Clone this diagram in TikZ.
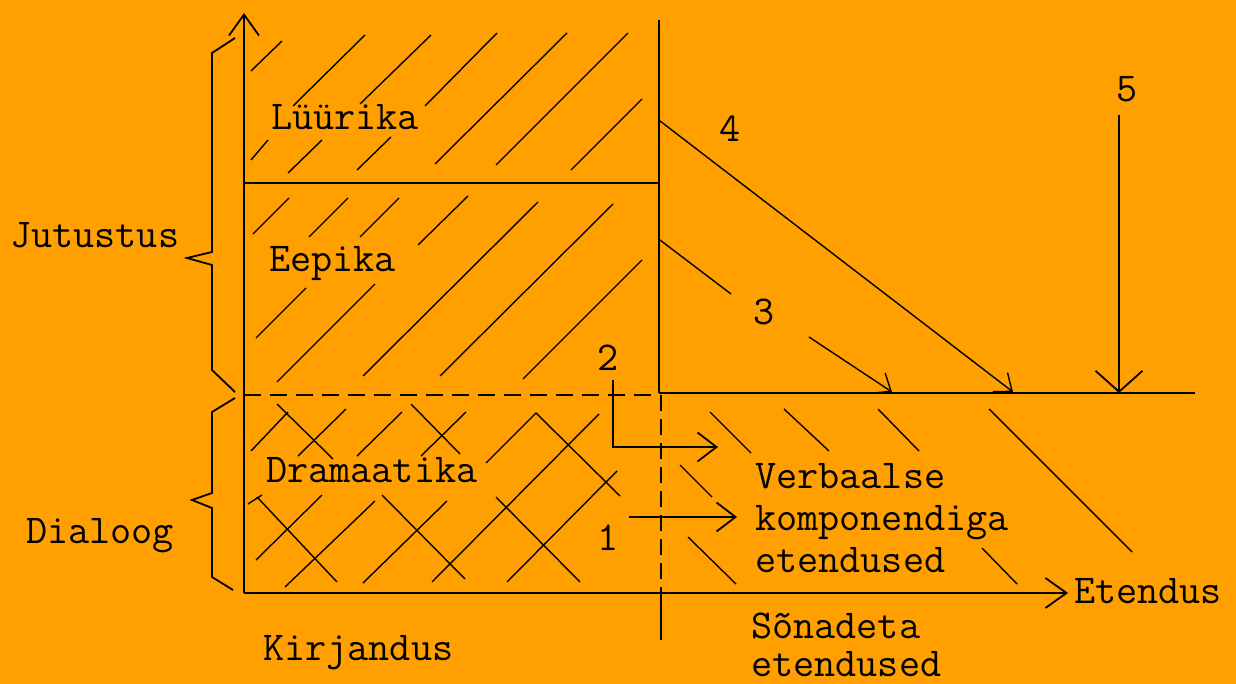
\documentclass[tikz,border=0pt]{standalone}
\usepackage{fontspec}
\usetikzlibrary{arrows.meta}
\definecolor{bgor}{RGB}{255,160,0}
\begin{document}
\begin{tikzpicture}[x=1pt,y=-1pt,
  ln/.style={line width=1.8pt, black, line join=miter},
  hatch/.style={line width=1.4pt, black},
  dsh/.style={line width=1.8pt, black, dash pattern=on 17pt off 9pt},
  lbl/.style={anchor=base west, inner sep=0pt, font=\ttfamily\fontsize{41}{42}\selectfont},
  axtip/.style={-{Straight Barb[length=21pt,width=30pt]}},
  smtip/.style={-{Straight Barb[length=19pt,width=29pt]}},
  dgtip/.style={-{Straight Barb[length=15pt,width=24pt]}},
  bigtip/.style={-{Straight Barb[length=21pt,width=47pt]}}
]
\useasboundingbox (0,0) rectangle (1236,684);
\fill[bgor] (0,0) rectangle (1236,684);

% coordinates
\coordinate (O) at (244,593);
\coordinate (Ytop) at (244,13);
\coordinate (Xend) at (1068,593);
\coordinate (DivL) at (244,183);
\coordinate (DivR) at (659,183);
\coordinate (Vtop) at (659,20);
\coordinate (Vmid) at (659,393);
\coordinate (Hright) at (1195,393);
\coordinate (DashL) at (244,395);
\coordinate (DashR) at (659,395);
\coordinate (VdTop) at (661,395);
\coordinate (VdBot) at (661,593);
\coordinate (Vlow) at (661,640);

% axes and frame lines
\draw[ln, axtip] (O) -- (Ytop);
\draw[ln, axtip] (O) -- (Xend);
\draw[ln] (DivL) -- (DivR);
\draw[ln] (Vtop) -- (Vmid);
\draw[ln] (Vmid) -- (Hright);
\draw[dsh] (DashL) -- (DashR);
\draw[ln, dash pattern=on 16pt off 8pt] (VdTop) -- (VdBot);
\draw[ln] (VdBot) -- (Vlow);

% braces
\draw[ln] (235,38) -- (212,53) -- (212,252) -- (187,258) -- (212,265) -- (212,370) -- (235,392);
\draw[ln] (235,398) -- (212,412) -- (212,493) -- (192,500) -- (212,508) -- (212,577) -- (233,590);

% Lüürika hatching
\draw[hatch] (251,71) -- (282,41);
\draw[hatch] (293,106) -- (365,35);
\draw[hatch] (360,104) -- (431,35);
\draw[hatch] (425,106) -- (497,33);
\draw[hatch] (435,164) -- (567,33);
\draw[hatch] (496,165) -- (628,33);
\draw[hatch] (571,170) -- (642,99);
\draw[hatch] (251,160) -- (268,140);
\draw[hatch] (288,173) -- (322,140);
\draw[hatch] (357,170) -- (391,137);

% Eepika hatching
\draw[hatch] (253,234) -- (289,198);
\draw[hatch] (309,237) -- (348,198);
\draw[hatch] (360,237) -- (399,198);
\draw[hatch] (418,245) -- (468,196);
\draw[hatch] (256,338) -- (306,288);
\draw[hatch] (277,382) -- (375,284);
\draw[hatch] (363,376) -- (538,202);
\draw[hatch] (440,376) -- (613,204);
\draw[hatch] (523,379) -- (642,260);

% Dramaatika crosshatching
\draw[hatch] (251,451) -- (288,412);
\draw[hatch] (277,404) -- (333,459);
\draw[hatch] (298,456) -- (346,409);
\draw[hatch] (357,456) -- (402,412);
\draw[hatch] (411,404) -- (460,454);
\draw[hatch] (421,456) -- (466,412);
\draw[hatch] (486,463) -- (536,413) -- (620,496);
\draw[hatch] (599,414) -- (432,582);
\draw[hatch] (617,471) -- (507,582);
\draw[hatch] (496,497) -- (580,582);
\draw[hatch] (382,495) -- (465,579);
\draw[hatch] (447,501) -- (363,583);
\draw[hatch] (257,497) -- (337,582);
\draw[hatch] (322,495) -- (256,560);
\draw[hatch] (375,501) -- (285,587);
\draw[hatch] (248,504) -- (262,495);

% right-side hatching
\draw[hatch] (710,412) -- (751,453);
\draw[hatch] (784,409) -- (829,451);
\draw[hatch] (878,409) -- (919,451);
\draw[hatch] (989,409) -- (1132,552);
\draw[hatch] (680,465) -- (712,497);
\draw[hatch] (688,537) -- (736,584);
\draw[hatch] (982,548) -- (1017,584);

% numbered arrows
\coordinate (A1s) at (629,517);
\coordinate (A1e) at (737,517);
\draw[ln, smtip] (A1s) -- (A1e);
\coordinate (A2s) at (613,380);
\coordinate (A2c) at (613,447);
\coordinate (A2e) at (718,447);
\draw[ln, smtip] (A2s) -- (A2c) -- (A2e);
\coordinate (A3s) at (660,240);
\coordinate (A3m) at (731,294);
\coordinate (A3n) at (809,337);
\coordinate (A3e) at (892,392);
\draw[hatch] (A3s) -- (A3m);
\draw[hatch, dgtip] (A3n) -- (A3e);
\coordinate (A4s) at (660,121);
\coordinate (A4e) at (1013,392);
\draw[hatch, dgtip] (A4s) -- (A4e);
\coordinate (A5s) at (1119,115);
\coordinate (A5e) at (1119,393);
\draw[ln, bigtip] (A5s) -- (A5e);

% labels
\node[lbl] (jut) at (10,248) {Jutustus};
\node[lbl] (dia) at (26,543) {Dialoog};
\node[lbl] (lyy) at (271,130) {Lüürika};
\node[lbl] (eep) at (269,272) {Eepika};
\node[lbl] (dra) at (266,482) {Dramaatika};
\node[lbl] (kir) at (263,660) {Kirjandus};
\node[lbl] (ver1) at (755,488) {Verbaalse};
\node[lbl] (ver2) at (755,530) {komponendiga};
\node[lbl] (ver3) at (755,572) {etendused};
\node[lbl] (son1) at (751,638) {Sõnadeta};
\node[lbl] (son2) at (751,676) {etendused};
\node[lbl] (ete) at (1074,603) {Etendus};
\node[lbl] (n1) at (597,550) {1};
\node[lbl] (n2) at (597,370) {2};
\node[lbl] (n3) at (753,325) {3};
\node[lbl] (n4) at (719,142) {4};
\node[lbl] (n5) at (1116,102) {5};
\end{tikzpicture}
\end{document}
